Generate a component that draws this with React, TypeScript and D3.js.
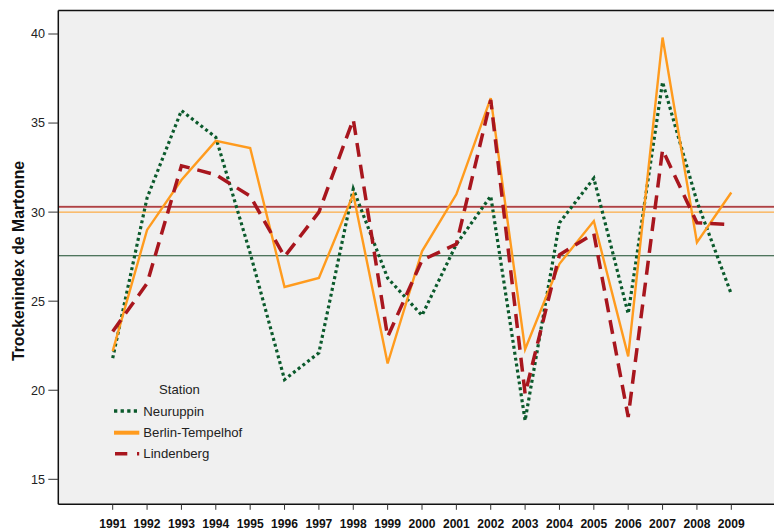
import React from "react";
import * as d3 from "d3";

const years = [1991,1992,1993,1994,1995,1996,1997,1998,1999,2000,2001,2002,2003,2004,2005,2006,2007,2008,2009];
const neuruppin = [21.8,30.8,35.7,34.2,27.7,20.6,22.1,31.3,26.3,24.2,28.2,30.9,18.3,29.4,31.9,24.3,37.3,30.6,25.4];
const berlin = [22.2,29.0,31.8,34.0,33.6,25.8,26.3,31.0,21.5,27.8,31.0,36.4,22.3,27.1,29.5,21.9,39.8,28.3,31.1];
const lindenberg = [23.3,26.0,32.6,32.1,30.9,27.5,30.0,35.2,23.0,27.3,28.2,36.3,19.8,27.6,28.8,18.5,33.5,29.4,29.3];
const yTicks = [15,20,25,30,35,40];
const refLines = [
  { station: "Lindenberg", value: 30.3 },
  { station: "Berlin-Tempelhof", value: 30.0 },
  { station: "Neuruppin", value: 27.55 },
];

const W = 774, H = 529;
const left = 58.3, top = 10.5, right = 776, bottom = 504.3;
const font = "'Liberation Sans', Arial, sans-serif";

const x = d3.scaleLinear().domain([1991, 2009]).range([112.7, 731.3]);
const y = d3.scaleLinear().domain([15, 40]).range([479.3, 34]);

const series = [
  { name: "Neuruppin", values: neuruppin, color: "#0b5a2c", width: 3.2, dash: "3 3" },
  { name: "Berlin-Tempelhof", values: berlin, color: "#ff9b1e", width: 2.4, dash: null },
  { name: "Lindenberg", values: lindenberg, color: "#a8161e", width: 3.5, dash: "14 8" },
];
const legendStyle: Record<string, { w: number; dash?: string; x1: number; x2: number }> = {
  "Neuruppin": { w: 3.3, dash: "3.3 3.3", x1: 114, x2: 137 },
  "Berlin-Tempelhof": { w: 4, x1: 114, x2: 139.3 },
  "Lindenberg": { w: 3.5, dash: "12.3 9.7 2.2 20", x1: 115, x2: 139.3 },
};
const refColor: Record<string, string> = {
  "Lindenberg": "#a0282c",
  "Berlin-Tempelhof": "#ff9b1e",
  "Neuruppin": "#1a4d2c",
};

export default function App() {
  const line = d3.line<number>().x((_, i) => x(years[i])).y((v) => y(v));
  return (
    <svg width={W} height={H} style={{ position: "absolute", left: 0, top: 0, display: "block" }} fontFamily={font}>
      <rect x={0} y={0} width={W} height={H} fill="#ffffff" />
      <rect x={left} y={top} width={right - left} height={bottom - top} fill="#f0f0f0" />
      {refLines.map((r) => (
        <g key={r.station}>
          {r.station === "Lindenberg" && (
            <line x1={left} x2={right} y1={y(r.value)} y2={y(r.value)} stroke="#d08a8a" strokeWidth={2.2} />
          )}
          <line x1={left} x2={right} y1={y(r.value)} y2={y(r.value)} stroke={refColor[r.station]} strokeWidth={1} />
        </g>
      ))}
      {series.map((s) => (
        <path key={s.name} d={line(s.values) || ""} fill="none" stroke={s.color} strokeWidth={s.width}
          strokeDasharray={s.dash || undefined} strokeLinejoin="miter" />
      ))}
      <line x1={left} x2={right} y1={top} y2={top} stroke="#111" strokeWidth={1.5} />
      <line x1={left} x2={left} y1={top} y2={bottom} stroke="#111" strokeWidth={1.5} />
      <line x1={left} x2={right} y1={bottom} y2={bottom} stroke="#111" strokeWidth={1.5} />
      {yTicks.map((t) => (
        <g key={t}>
          <line x1={48.3} x2={left} y1={y(t)} y2={y(t)} stroke="#333" strokeWidth={1} />
          <text x={45} y={y(t)} dy="0.35em" textAnchor="end" fontSize={12.6} fill="#222">{t}</text>
        </g>
      ))}
      {years.map((yr) => (
        <g key={yr}>
          <line x1={x(yr)} x2={x(yr)} y1={bottom} y2={bottom + 5.5} stroke="#333" strokeWidth={1} />
          <text x={x(yr)} y={527.5} textAnchor="middle" fontSize={12.1} fontWeight="bold" fill="#111">{yr}</text>
        </g>
      ))}
      <text transform={`translate(23.5,261) rotate(-90)`} textAnchor="middle" fontSize={15.8} fontWeight="bold" fill="#111">
        Trockenindex de Martonne
      </text>
      <text x={179.5} y={389} dy="0.35em" textAnchor="middle" fontSize={13.1} fill="#222">Station</text>
      {series.map((s, i) => {
        const ly = [411, 432.7, 453.7][i];
        const ls = legendStyle[s.name];
        return (
          <g key={s.name}>
            <line x1={ls.x1} x2={ls.x2} y1={ly} y2={ly} stroke={s.color} strokeWidth={ls.w}
              strokeDasharray={ls.dash} />
            <text x={143.3} y={ly} dy="0.35em" fontSize={13.2} fill="#222">{s.name}</text>
          </g>
        );
      })}
    </svg>
  );
}
